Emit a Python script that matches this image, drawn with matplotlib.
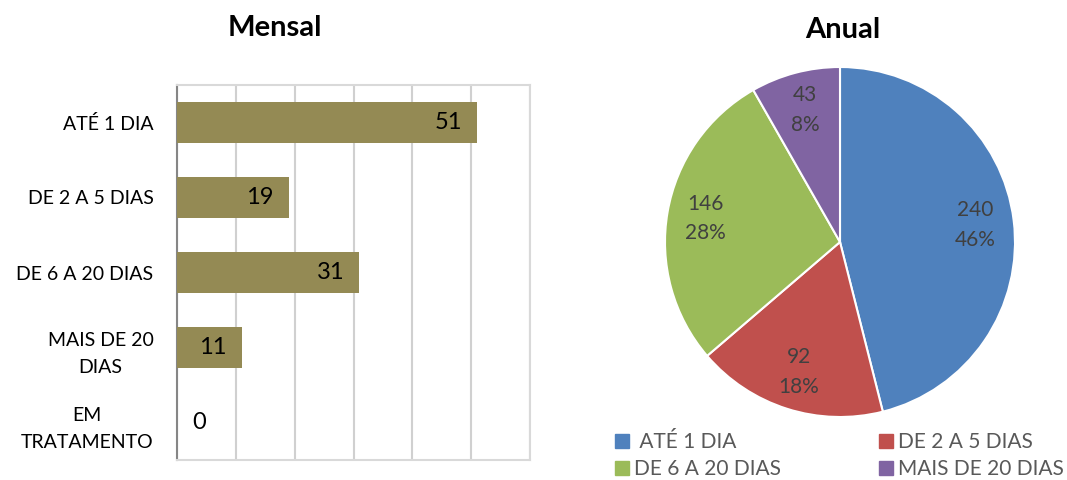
import matplotlib
matplotlib.use("Agg")
import matplotlib.pyplot as plt
from matplotlib.lines import Line2D
import numpy as np

plt.rcParams['font.family'] = ['Lato', 'DejaVu Sans']

# Data
bar_categories = ["ATÉ 1 DIA", "DE 2 A 5 DIAS", "DE 6 A 20 DIAS", "MAIS DE 20\nDIAS", "EM\nTRATAMENTO"]
bar_values = [51, 19, 31, 11, 0]

pie_labels = [" ATÉ 1 DIA", "DE 2 A 5 DIAS", "DE 6 A 20 DIAS", "MAIS DE 20 DIAS"]
pie_values = [240, 92, 146, 43]
pie_colors = ["#4F81BD", "#C0504D", "#9BBB59", "#8064A2"]

W, H = 1067, 480
fig = plt.figure(figsize=(W / 100, H / 100), dpi=100)

# ---- Bar chart ----
axL, axR, axT, axB = 177, 530, 85, 460
ax = fig.add_axes([axL / W, 1 - axB / H, (axR - axL) / W, (axB - axT) / H])
ypos = list(range(len(bar_categories)))
ax.barh(ypos, bar_values, height=0.55, color="#948A54", zorder=3)
ax.set_xlim(0, 60)
ax.set_ylim(len(bar_categories) - 0.5, -0.5)
ax.set_xticks(range(0, 61, 10))
ax.set_xticklabels([])
ax.tick_params(axis='x', length=0)
ax.tick_params(axis='y', length=0, pad=17)
ax.set_yticks(ypos)
ax.set_yticklabels(bar_categories, fontsize=14, multialignment='center', linespacing=1.7)
ax.grid(axis='x', color="#D0D0D0", linewidth=1.5, zorder=0)
for s in ['top', 'right', 'bottom']:
    ax.spines[s].set_color("#D9D9D9")
    ax.spines[s].set_linewidth(1.5)
ax.spines['left'].set_color("#868686")
ax.spines['left'].set_linewidth(1.5)
for y, v in zip(ypos, bar_values):
    ax.text(max(v - 2.6, 4.9), y, str(v), ha='right', va='center', fontsize=17, color='black', zorder=4)
fig.text(275 / W, 1 - 28 / H, "Mensal", ha='center', va='center', fontsize=21, fontweight='bold')

# ---- Pie chart ----
pL, pR, pT, pB = 665, 1015, 67, 417
axp = fig.add_axes([pL / W, 1 - pB / H, (pR - pL) / W, (pB - pT) / H])
wedges, _ = axp.pie(pie_values, colors=pie_colors, startangle=90, counterclock=False,
                    wedgeprops=dict(edgecolor='white', linewidth=1.5), radius=1.0)
axp.set_xlim(-1.0, 1.0)
axp.set_ylim(-1.0, 1.0)
axp.set_aspect('equal')
total = sum(pie_values)
for w, v in zip(wedges, pie_values):
    ang = np.deg2rad((w.theta1 + w.theta2) / 2)
    r = 0.78
    axp.text(r * np.cos(ang), r * np.sin(ang), f"{v}\n{round(100 * v / total)}%",
             ha='center', va='center', fontsize=15, color="#404040", linespacing=1.6)
fig.text(843 / W, 1 - 30 / H, "Anual", ha='center', va='center', fontsize=21, fontweight='bold')

handles = [Line2D([0], [0], marker='s', linestyle='none', markersize=10,
                  markerfacecolor=c, markeredgecolor=c) for c in pie_colors]
cols = [[0, 2], [1, 3]]
col_x = [612, 876]
for xs, idx in zip(col_x, cols):
    leg = fig.legend([handles[i] for i in idx], [pie_labels[i] for i in idx],
                     ncol=1, loc='upper left', bbox_to_anchor=(xs / W, 1 - 432 / H),
                     frameon=False, fontsize=15, handletextpad=0.05,
                     labelspacing=0.35, handlelength=1.0, borderpad=0, borderaxespad=0)
    for t in leg.get_texts():
        t.set_color("#595959")

fig.savefig("out.png", dpi=100)
